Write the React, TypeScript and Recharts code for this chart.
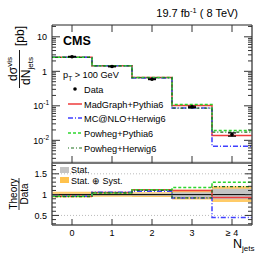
import React from 'react';
import { ComposedChart, Line, Area, Scatter, ErrorBar, XAxis, YAxis, ReferenceLine } from 'recharts';

// ---------- data ----------
const categories = ['0', '1', '2', '3', '\u2265 4'];
const binCenters = [0, 1, 2, 3, 4];
const binEdges = [-0.5, 0.5, 1.5, 2.5, 3.5, 4.5];

const dataXsec = [2.65, 1.38, 0.59, 0.093, 0.0148];
const dataErr = [0.06, 0.03, 0.015, 0.004, 0.0016];

const madgraphXsec = [2.55, 1.45, 0.66, 0.102, 0.0137];
const mcatnloXsec = [2.55, 1.46, 0.64, 0.086, 0.0067];
const powhegPythiaXsec = [2.55, 1.44, 0.66, 0.109, 0.0192];
const powhegHerwigXsec = [2.53, 1.44, 0.65, 0.086, 0.0173];

const madgraphRatio = [0.96, 1.05, 1.12, 1.1, 0.93];
const mcatnloRatio = [0.96, 1.06, 1.08, 0.92, 0.45];
const powhegPythiaRatio = [0.96, 1.04, 1.12, 1.17, 1.3];
const powhegHerwigRatio = [0.95, 1.04, 1.1, 0.92, 1.19];

const statLo = [0.98, 0.98, 0.97, 0.94, 0.89];
const statHi = [1.02, 1.02, 1.03, 1.06, 1.14];
const systLo = [0.93, 0.95, 0.94, 0.88, 0.82];
const systHi = [1.07, 1.06, 1.06, 1.12, 1.2];

const logTicks = [
  0.003, 0.004, 0.005, 0.006, 0.007, 0.008, 0.009,
  0.01, 0.02, 0.03, 0.04, 0.05, 0.06, 0.07, 0.08, 0.09,
  0.1, 0.2, 0.3, 0.4, 0.5, 0.6, 0.7, 0.8, 0.9,
  1, 2, 3, 4, 5, 6, 7, 8, 9, 10, 20,
];
const ratioTicks = [0.3, 0.4, 0.5, 0.6, 0.7, 0.8, 0.9, 1.0, 1.1, 1.2, 1.3, 1.4, 1.5, 1.6, 1.7];

// ---------- tables built from the arrays ----------
const last = (i: number) => Math.min(i, categories.length - 1);
const topRows = binEdges.map((x, i) => ({
  x,
  mg: madgraphXsec[last(i)],
  mc: mcatnloXsec[last(i)],
  pp: powhegPythiaXsec[last(i)],
  ph: powhegHerwigXsec[last(i)],
}));
const ratioRows = binEdges.map((x, i) => ({
  x,
  mg: madgraphRatio[last(i)],
  mc: mcatnloRatio[last(i)],
  pp: powhegPythiaRatio[last(i)],
  ph: powhegHerwigRatio[last(i)],
  stat: [statLo[last(i)], statHi[last(i)]],
  syst: [systLo[last(i)], systHi[last(i)]],
}));
const dataPoints = binCenters.map((x, i) => ({ x, y: dataXsec[i], err: [dataErr[i], dataErr[i]] }));

// ---------- styles ----------
const FONT = "'Liberation Sans', Arial, Helvetica, sans-serif";
const FRAME = '#555';
const C_MG = '#ee3b3b';
const C_MC = '#3f3fff';
const C_PP = '#2ed62e';
const C_PH = '#1b6e1b';
const DASH_MC = '5 2 1 2';
const DASH_PP = '3 2';
const DASH_PH = '1 2 3 2';
const LEG = 9.2;
const TICKF = 9;

const isMajorLog = (v: number) => {
  const l = Math.log10(v);
  return Math.abs(l - Math.round(l)) < 1e-6;
};
const isMajorRatio = (v: number) => Math.abs(v * 2 - Math.round(v * 2)) < 1e-6;

const LeftLogTick = (p: any) => {
  const v = p.payload.value;
  const major = isMajorLog(v);
  const e = Math.round(Math.log10(v));
  return (
    <g>
      <line x1={p.x} x2={p.x + (major ? 8 : 4)} y1={p.y} y2={p.y} stroke="#333" strokeWidth={1} />
      {major && e >= 0 && (
        <text x={p.x - 5} y={p.y + 3.5} textAnchor="end" fontSize={TICKF} fontFamily={FONT} fill="#000">
          {e === 0 ? '1' : '10'}
        </text>
      )}
      {major && e < 0 && (
        <text x={p.x - 3} y={p.y + 3.5} textAnchor="end" fontSize={TICKF} fontFamily={FONT} fill="#000">
          10<tspan dy={-4} fontSize={6.5}>{String(e)}</tspan>
        </text>
      )}
    </g>
  );
};
const RightLogTick = (p: any) => {
  const major = isMajorLog(p.payload.value);
  return <line x1={p.x - (major ? 8 : 4)} x2={p.x} y1={p.y} y2={p.y} stroke="#333" strokeWidth={1} />;
};
const LeftRatioTick = (p: any) => {
  const v = p.payload.value;
  const major = isMajorRatio(v);
  return (
    <g>
      <line x1={p.x} x2={p.x + (major ? 7 : 4)} y1={p.y} y2={p.y} stroke="#333" strokeWidth={1} />
      {major && (
        <text x={p.x - 5} y={p.y + 3.5} textAnchor="end" fontSize={TICKF} fontFamily={FONT} fill="#000">
          {String(Number(v.toFixed(1)))}
        </text>
      )}
    </g>
  );
};
const RightRatioTick = (p: any) => {
  const major = isMajorRatio(p.payload.value);
  return <line x1={p.x - (major ? 7 : 4)} x2={p.x} y1={p.y} y2={p.y} stroke="#333" strokeWidth={1} />;
};
const TickDown = (p: any) => <line x1={p.x} x2={p.x} y1={p.y} y2={p.y + 7} stroke="#333" strokeWidth={1} />;
const TickUp = (p: any) => <line x1={p.x} x2={p.x} y1={p.y} y2={p.y - 7} stroke="#333" strokeWidth={1} />;
const BottomLabelTick = (p: any) => (
  <g>
    <line x1={p.x} x2={p.x} y1={p.y} y2={p.y - 6} stroke="#333" strokeWidth={1} />
    <text x={p.x} y={p.y + 10.5} textAnchor="middle" fontSize={TICKF} fontFamily={FONT} fill="#000">
      {categories[binCenters.indexOf(p.payload.value)]}
    </text>
  </g>
);

const DataDot = (p: any) => <circle cx={p.cx} cy={p.cy} r={1.8} fill="#000" />;

const W = 266;
const TOP_H = 164;
const BOT_TOP = 163;
const BOT_H = 92;

export default function App() {
  return (
    <div style={{ position: 'absolute', left: 0, top: 0, width: 266, height: 255, background: '#fff' }}>
      <div style={{ position: 'absolute', left: 0, top: 0 }}>
        <ComposedChart width={W} height={TOP_H} data={topRows} margin={{ top: 24, right: 13, bottom: 0, left: 51 }}>
          <XAxis xAxisId="b" dataKey="x" type="number" domain={[-0.5, 4.5]} ticks={binCenters} interval={0}
            height={1} tickSize={0} tickMargin={0} tick={TickUp} tickLine={false}
            axisLine={{ stroke: '#777', strokeWidth: 2.5 }} allowDataOverflow />
          <XAxis xAxisId="t" orientation="top" dataKey="x" type="number" domain={[-0.5, 4.5]} ticks={binCenters} interval={0}
            height={1} tickSize={0} tickMargin={0} tick={TickDown} tickLine={false}
            axisLine={{ stroke: '#222', strokeWidth: 1 }} allowDataOverflow />
          <YAxis yAxisId="l" type="number" scale="log" domain={[0.0022, 22]} ticks={logTicks} interval={0}
            width={1} tickSize={0} tickMargin={0} tick={LeftLogTick} tickLine={false}
            axisLine={{ stroke: '#222', strokeWidth: 1 }} allowDataOverflow />
          <YAxis yAxisId="r" orientation="right" type="number" scale="log" domain={[0.0022, 22]} ticks={logTicks} interval={0}
            width={1} tickSize={0} tickMargin={0} tick={RightLogTick} tickLine={false}
            axisLine={{ stroke: FRAME, strokeWidth: 1.5 }} allowDataOverflow />
          <Line xAxisId="b" yAxisId="l" type="stepAfter" dataKey="mg" stroke={C_MG} strokeWidth={1.5} dot={false} isAnimationActive={false} />
          <Line xAxisId="b" yAxisId="l" type="stepAfter" dataKey="mc" stroke={C_MC} strokeWidth={1.5} strokeDasharray={DASH_MC} dot={false} isAnimationActive={false} />
          <Line xAxisId="b" yAxisId="l" type="stepAfter" dataKey="pp" stroke={C_PP} strokeWidth={1.5} strokeDasharray={DASH_PP} dot={false} isAnimationActive={false} />
          <Line xAxisId="b" yAxisId="l" type="stepAfter" dataKey="ph" stroke={C_PH} strokeWidth={1.2} strokeDasharray={DASH_PH} dot={false} isAnimationActive={false} />
          <Scatter xAxisId="b" yAxisId="l" data={dataPoints} dataKey="y" shape={DataDot} isAnimationActive={false}>
            <ErrorBar dataKey="err" direction="y" width={4} stroke="#000" strokeWidth={1.2} isAnimationActive={false} />
          </Scatter>
        </ComposedChart>
      </div>
      <div style={{ position: 'absolute', left: 0, top: BOT_TOP }}>
        <ComposedChart width={W} height={BOT_H} data={ratioRows} margin={{ top: 0, right: 13, bottom: 29, left: 51 }}>
          <XAxis xAxisId="b" dataKey="x" type="number" domain={[-0.5, 4.5]} ticks={binCenters} interval={0}
            height={1} tickSize={0} tickMargin={0} tick={BottomLabelTick} tickLine={false}
            axisLine={{ stroke: FRAME, strokeWidth: 1.5 }} allowDataOverflow />
          <YAxis yAxisId="l" type="number" domain={[0.27, 1.76]} ticks={ratioTicks} interval={0}
            width={1} tickSize={0} tickMargin={0} tick={LeftRatioTick} tickLine={false}
            axisLine={{ stroke: FRAME, strokeWidth: 1.5 }} allowDataOverflow />
          <YAxis yAxisId="r" orientation="right" type="number" domain={[0.27, 1.76]} ticks={ratioTicks} interval={0}
            width={1} tickSize={0} tickMargin={0} tick={RightRatioTick} tickLine={false}
            axisLine={{ stroke: FRAME, strokeWidth: 1.5 }} allowDataOverflow />
          <ReferenceLine xAxisId="b" yAxisId="l" y={0.5} stroke="#bbb" strokeDasharray="1 2" />
          <ReferenceLine xAxisId="b" yAxisId="l" y={1.5} stroke="#bbb" strokeDasharray="1 2" />
          <Area xAxisId="b" yAxisId="l" type="stepAfter" dataKey="syst" fill="#ffc24d" fillOpacity={0.85} stroke="none" isAnimationActive={false} />
          <Area xAxisId="b" yAxisId="l" type="stepAfter" dataKey="stat" fill="#c4c4c4" fillOpacity={1} stroke="none" isAnimationActive={false} />
          <ReferenceLine xAxisId="b" yAxisId="l" y={1} stroke="#000" strokeWidth={1} />
          <Line xAxisId="b" yAxisId="l" type="stepAfter" dataKey="mg" stroke={C_MG} strokeWidth={1.5} dot={false} isAnimationActive={false} />
          <Line xAxisId="b" yAxisId="l" type="stepAfter" dataKey="mc" stroke={C_MC} strokeWidth={1.5} strokeDasharray={DASH_MC} dot={false} isAnimationActive={false} />
          <Line xAxisId="b" yAxisId="l" type="stepAfter" dataKey="pp" stroke={C_PP} strokeWidth={1.5} strokeDasharray={DASH_PP} dot={false} isAnimationActive={false} />
          <Line xAxisId="b" yAxisId="l" type="stepAfter" dataKey="ph" stroke={C_PH} strokeWidth={1.2} strokeDasharray={DASH_PH} dot={false} isAnimationActive={false} />
        </ComposedChart>
      </div>
      <svg width={266} height={255} style={{ position: 'absolute', left: 0, top: 0, pointerEvents: 'none' }} fontFamily={FONT}>
        {/* title */}
        <text x={238} y={17} textAnchor="end" fontSize={11} fill="#000">
          19.7 fb<tspan dy={-4} fontSize={7.5}>-1</tspan><tspan dy={4}> ( 8 TeV)</tspan>
        </text>
        <text x={63} y={45} fontSize={12.5} fontWeight="bold" fill="#000">CMS</text>
        {/* y title top */}
        <g transform="translate(17,69) rotate(-90)">
          <text x={0} y={0} textAnchor="middle" fontSize={12} fill="#000">
            d&#963;<tspan dy={-5} fontSize={8}>vis</tspan>
          </text>
          <line x1={-19} x2={19} y1={2.5} y2={2.5} stroke="#000" strokeWidth={0.9} />
          <text x={-2} y={13} textAnchor="middle" fontSize={12} fill="#000">
            dN<tspan dy={3} fontSize={8}>jets</tspan>
          </text>
          <text x={23} y={7} fontSize={12} fill="#000">[pb]</text>
        </g>
        {/* y title bottom */}
        <g transform="translate(17,194) rotate(-90)">
          <text x={0} y={0} textAnchor="middle" fontSize={10} fill="#000">Theory</text>
          <line x1={-16} x2={16} y1={2} y2={2} stroke="#000" strokeWidth={0.8} />
          <text x={0} y={11} textAnchor="middle" fontSize={10} fill="#000">Data</text>
        </g>
        {/* x title */}
        <text x={233} y={248} fontSize={12.5} fill="#000">
          N<tspan dy={3} fontSize={8}>jets</tspan>
        </text>
        {/* legend top */}
        <text x={63} y={78} fontSize={LEG} fill="#000">
          p<tspan dy={3} fontSize={6.5}>T</tspan><tspan dy={-3}> &gt; 100 GeV</tspan>
        </text>
        <circle cx={75} cy={89} r={1.8} fill="#000" />
        <text x={84} y={92.5} fontSize={LEG} fill="#000">Data</text>
        <line x1={68} x2={82} y1={104} y2={104} stroke={C_MG} strokeWidth={1.5} />
        <text x={84} y={107.5} fontSize={LEG} fill="#000">MadGraph+Pythia6</text>
        <line x1={68} x2={82} y1={118} y2={118} stroke={C_MC} strokeWidth={1.5} strokeDasharray={DASH_MC} />
        <text x={84} y={121.5} fontSize={LEG} fill="#000">MC@NLO+Herwig6</text>
        <line x1={68} x2={82} y1={133} y2={133} stroke={C_PP} strokeWidth={1.5} strokeDasharray={DASH_PP} />
        <text x={84} y={136.5} fontSize={LEG} fill="#000">Powheg+Pythia6</text>
        <line x1={68} x2={82} y1={148} y2={148} stroke={C_PH} strokeWidth={1.2} strokeDasharray={DASH_PH} />
        <text x={84} y={151.5} fontSize={LEG} fill="#000">Powheg+Herwig6</text>
        {/* legend ratio */}
        <rect x={60} y={167} width={9} height={6} fill="#c4c4c4" />
        <text x={71} y={173} fontSize={9} fill="#000">Stat.</text>
        <rect x={60} y={177} width={9} height={6} fill="#ffc24d" />
        <text x={71} y={183.5} fontSize={9} fill="#000">Stat. &#8853; Syst.</text>
      </svg>
    </div>
  );
}
